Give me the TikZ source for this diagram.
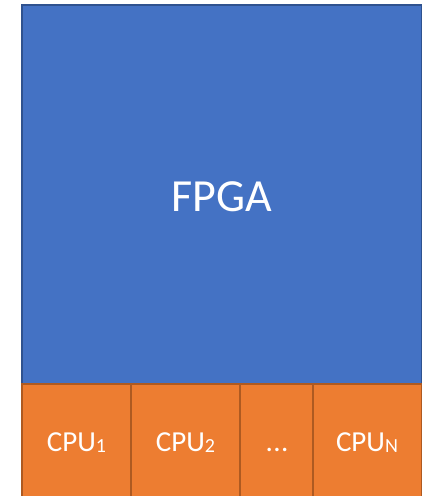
\documentclass[tikz,border=0pt]{standalone}
\usepackage{fontspec}
\setmainfont{Carlito}
\definecolor{fpgablue}{HTML}{4472C4}
\definecolor{fpgaedge}{HTML}{2F528F}
\definecolor{cpuorange}{HTML}{ED7D31}
\definecolor{cpuedge}{HTML}{AE5A21}
\newcommand{\sublabel}[1]{\raisebox{-0.8pt}{\fontsize{20}{20}\selectfont #1}}
\begin{document}
\begin{tikzpicture}[x=1pt,y=-1pt,
  fpgabox/.style={draw=fpgaedge, fill=fpgablue, line width=1.4pt, inner sep=0pt, outer sep=0pt},
  cpubox/.style={draw=cpuedge, fill=cpuorange, line width=1.4pt, inner sep=0pt, outer sep=0pt},
  lbl/.style={text=white, inner sep=0pt, anchor=base},
  cpulbl/.style={lbl, font=\fontsize{29}{29}\selectfont}]
  \useasboundingbox (0,0) rectangle (423,496);
  \clip (0,0) rectangle (423,496);
  % the FPGA fabric on top
  \node[fpgabox, minimum width=399.5pt, minimum height=379pt, anchor=north west] (fpga) at (22,5) {};
  \node[lbl, font=\fontsize{46}{46}\selectfont] (fpgatxt) at (222,211.5) {FPGA};
  % the row of CPUs below it
  \node[cpubox, minimum width=109pt, minimum height=120pt, anchor=north west] (cpu1) at (22,384) {};
  \node[cpubox, minimum width=109pt, minimum height=120pt, anchor=north west] (cpu2) at (131,384) {};
  \node[cpubox, minimum width=73pt, minimum height=120pt, anchor=north west] (dots) at (240,384) {};
  \node[cpubox, minimum width=108.5pt, minimum height=120pt, anchor=north west] (cpun) at (313,384) {};
  \node[cpulbl] (l1) at (76.5,451.5) {CPU\sublabel{1}};
  \node[cpulbl] (l2) at (185.5,451.5) {CPU\sublabel{2}};
  \node[cpulbl] (l3) at (277,451.5) {.\kern0.5pt.\kern0.5pt.};
  \node[cpulbl] (ln) at (367,451.5) {CPU\sublabel{N}};
\end{tikzpicture}
\end{document}
